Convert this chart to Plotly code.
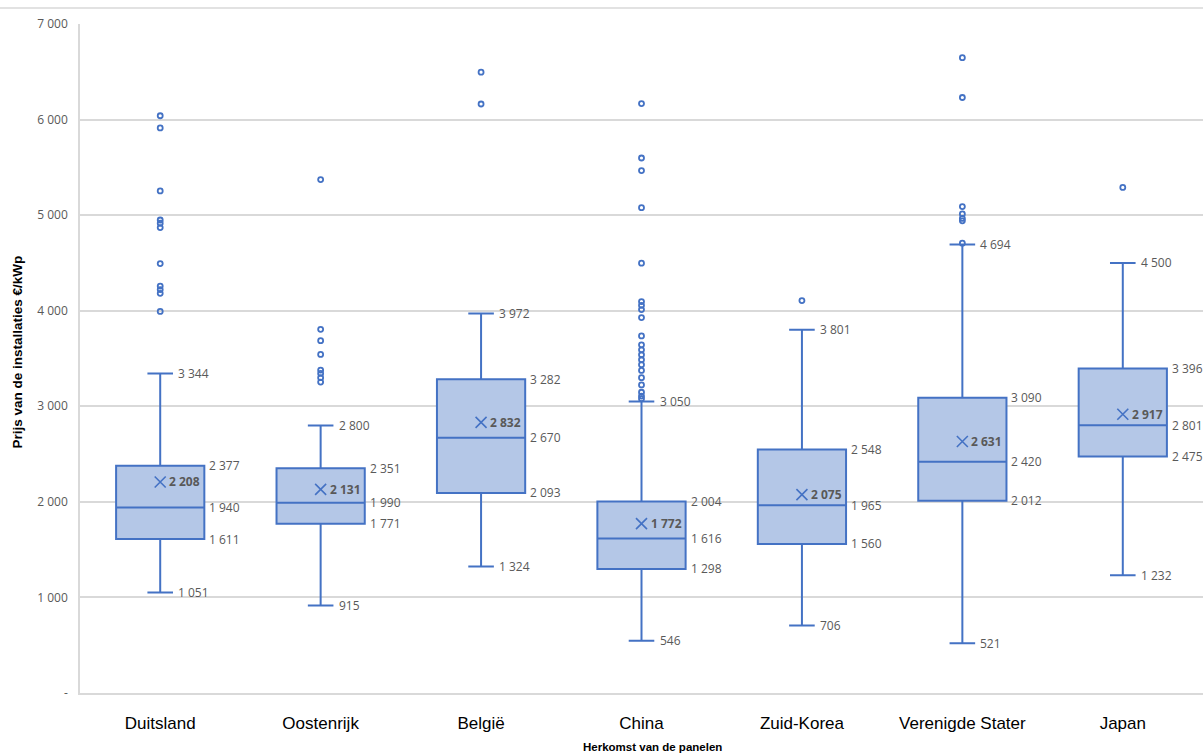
import plotly.graph_objects as go

# Prijs per kWp naar herkomst van de panelen (kwartielen, snorharen, gemiddelde, uitschieters)
categories = ["Duitsland", "Oostenrijk", "België", "China", "Zuid-Korea", "Verenigde Stater", "Japan"]
lower_whisker = [1051, 915, 1324, 546, 706, 521, 1232]
q1 = [1611, 1771, 2093, 1298, 1560, 2012, 2475]
median = [1940, 1990, 2670, 1616, 1965, 2420, 2801]
q3 = [2377, 2351, 3282, 2004, 2548, 3090, 3396]
upper_whisker = [3344, 2800, 3972, 3050, 3801, 4694, 4500]
mean = [2208, 2131, 2832, 1772, 2075, 2631, 2917]

outliers_duitsland = [6040, 5913, 5253, 4949, 4915, 4870, 4493, 4258, 4221, 4182, 3993]
outliers_oostenrijk = [5372, 3805, 3687, 3543, 3379, 3344, 3299, 3253]
outliers_belgie = [6496, 6163]
outliers_china = [6167, 5598, 5466, 5078, 4497, 4096, 4056, 4012, 3928, 3736, 3643,
                  3591, 3539, 3487, 3435, 3375, 3299, 3223, 3147, 3107, 3079]
outliers_zuid_korea = [4106]
outliers_vs = [6648, 6231, 5090, 5013, 4966, 4941, 4707]
outliers_japan = [5290]

y_tickvals = [0, 1000, 2000, 3000, 4000, 5000, 6000, 7000]
y_ticktext = ["-", "1 000", "2 000", "3 000", "4 000", "5 000", "6 000", "7 000"]

BLUE = "#4472C4"
FILL = "#B4C7E7"
GRID = "#D9D9D9"
LABEL = "#595959"
LABEL_FONT = "Open Sans, Noto Sans, sans-serif"
TITLE_FONT = "Liberation Sans, Arial, sans-serif"
BOX_WIDTH = 0.55


def fmt(v):
    return f"{v:,}".replace(",", " ")


positions = list(range(len(categories)))
all_outliers = [outliers_duitsland, outliers_oostenrijk, outliers_belgie, outliers_china,
                outliers_zuid_korea, outliers_vs, outliers_japan]

fig = go.Figure()

fig.add_trace(go.Box(
    x=positions,
    q1=q1, median=median, q3=q3,
    lowerfence=lower_whisker, upperfence=upper_whisker,
    width=BOX_WIDTH,
    fillcolor=FILL,
    line=dict(color=BLUE, width=2),
    whiskerwidth=0.29,
    boxpoints=False,
    hoverinfo="skip",
    showlegend=False,
))

out_x, out_y = [], []
for pos, vals in zip(positions, all_outliers):
    out_x += [pos] * len(vals)
    out_y += vals
fig.add_trace(go.Scatter(
    x=out_x, y=out_y, mode="markers",
    marker=dict(symbol="circle-open", size=5, color=BLUE, line=dict(width=1.8, color=BLUE)),
    hoverinfo="skip", showlegend=False,
))

fig.add_trace(go.Scatter(
    x=positions, y=mean, mode="markers",
    marker=dict(symbol="x-thin-open", size=11, color=BLUE, line=dict(width=1.6, color=BLUE)),
    hoverinfo="skip", showlegend=False,
))

annotations = []
for pos in positions:
    for val in (q3[pos], median[pos], q1[pos]):
        annotations.append(dict(x=pos + BOX_WIDTH / 2, y=val, text=fmt(val), xanchor="left",
                                yanchor="middle", xshift=3, showarrow=False,
                                font=dict(family=LABEL_FONT, size=12, color=LABEL)))
    for val in (upper_whisker[pos], lower_whisker[pos]):
        annotations.append(dict(x=pos, y=val, text=fmt(val), xanchor="left",
                                yanchor="middle", xshift=16, showarrow=False,
                                font=dict(family=LABEL_FONT, size=12, color=LABEL)))
    annotations.append(dict(x=pos, y=mean[pos], text="<b>" + fmt(mean[pos]) + "</b>",
                            xanchor="left", yanchor="middle", xshift=7, showarrow=False,
                            font=dict(family=LABEL_FONT, size=12, color=LABEL)))

# axis titles
annotations.append(dict(xref="paper", yref="paper", x=-0.0555, y=0.51,
                        text="<b>Prijs van de installaties €/kWp</b>",
                        textangle=-90, showarrow=False, xanchor="center", yanchor="middle",
                        font=dict(family=TITLE_FONT, size=13.5, color="#000000")))
annotations.append(dict(xref="paper", yref="paper", x=0.51, y=-0.081,
                        text="<b>Herkomst van de panelen</b>",
                        showarrow=False, xanchor="center", yanchor="middle",
                        font=dict(family=TITLE_FONT, size=11.5, color="#000000")))

fig.update_layout(
    width=1203, height=754,
    margin=dict(l=80, r=0, t=24, b=61),
    paper_bgcolor="white", plot_bgcolor="white",
    annotations=annotations,
    shapes=[dict(type="line", xref="paper", yref="paper", x0=-0.0713, x1=1, y0=1.024, y1=1.024,
                 line=dict(color=GRID, width=1.5))],
)

fig.update_xaxes(
    range=[-0.5, len(categories) - 0.5],
    tickvals=positions, ticktext=categories,
    tickfont=dict(family=TITLE_FONT, size=17, color="#000000"),
    showgrid=False, zeroline=False,
    showline=True, linecolor=GRID, linewidth=1.5,
    ticks="", ticklabelstandoff=14,
)
fig.update_yaxes(
    range=[0, 7000],
    tickvals=y_tickvals, ticktext=y_ticktext,
    tickfont=dict(family=LABEL_FONT, size=12, color=LABEL),
    showgrid=True, gridcolor=GRID, gridwidth=1.5,
    zeroline=False,
    showline=True, linecolor=GRID, linewidth=1.5,
    ticks="", ticklabelstandoff=8,
)

fig.write_html("out.html")
